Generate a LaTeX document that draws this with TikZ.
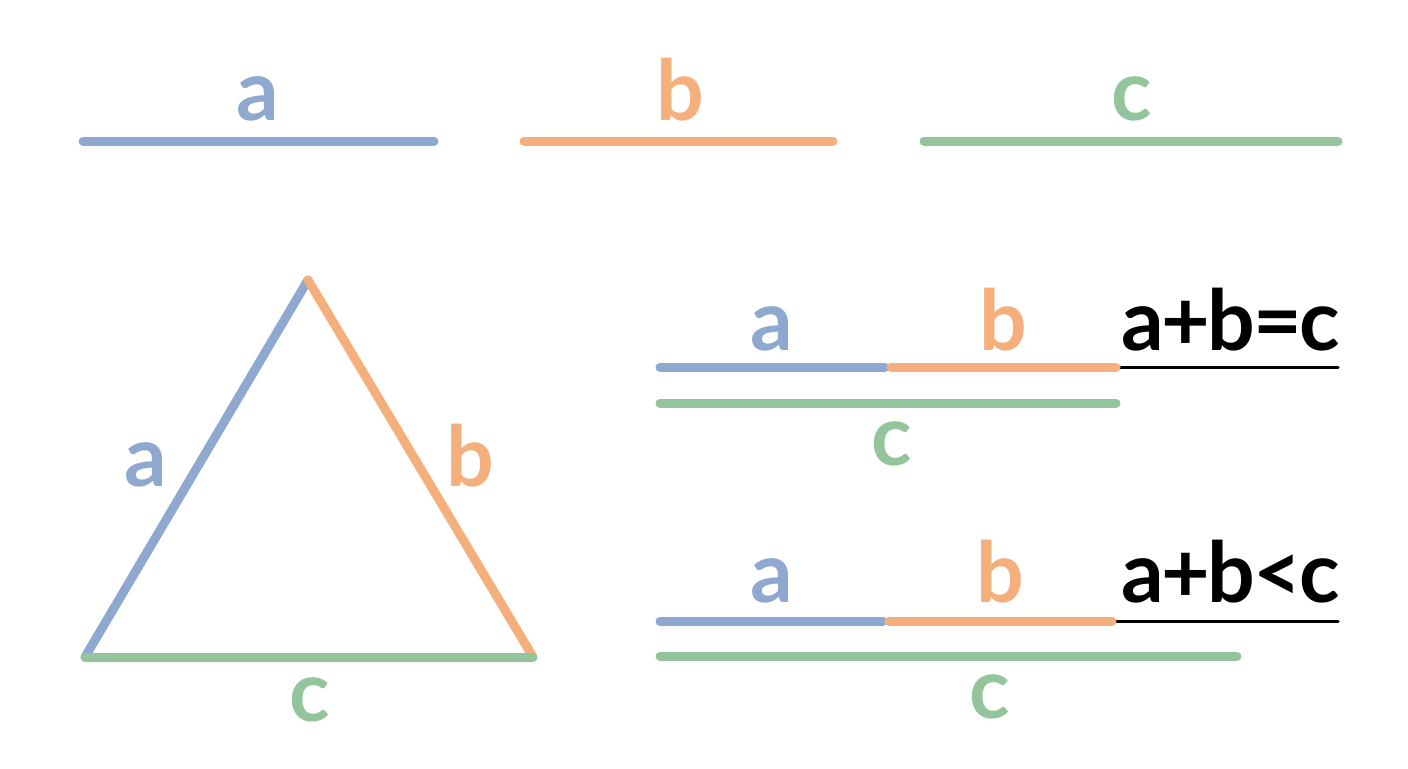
\documentclass[tikz,border=0pt]{standalone}
\usepackage{fontspec}
\setmainfont{Lato}
\definecolor{sidea}{RGB}{143,168,208}
\definecolor{sideb}{RGB}{245,175,125}
\definecolor{sidec}{RGB}{148,196,156}
\tikzstyle{side}=[line width=4.5pt,line cap=round]
\tikzstyle{lbl}=[anchor=base,inner sep=0pt,font=\fontsize{42}{50}\selectfont\bfseries]
\tikzstyle{rel}=[anchor=base east,inner sep=0pt,font=\fontsize{42}{50}\selectfont\bfseries\addfontfeature{LetterSpace=-3}]
\tikzstyle{base}=[line width=1.5pt,line cap=round]

\begin{document}
\begin{tikzpicture}[x=0.5pt,y=-0.5pt]
    \useasboundingbox (0,0) rectangle (1408,768);
    % the three sides
    \coordinate (a1) at (83,141);  \coordinate (a2) at (434,141);
    \coordinate (b1) at (524,141); \coordinate (b2) at (833,141);
    \coordinate (c1) at (924,141); \coordinate (c2) at (1338,141);
    \draw[side,sidea] (a1) -- (a2);
    \draw[side,sideb] (b1) -- (b2);
    \draw[side,sidec] (c1) -- (c2);
    \node[lbl,sidea] (la) at (258,120) {a};
    \node[lbl,sideb] (lb) at (680,120) {b};
    \node[lbl,sidec] (lc) at (1132,120) {c};

    % triangle
    \coordinate (top) at (308,280);
    \coordinate (left) at (85,657);
    \coordinate (right) at (533,657);
    \draw[side,sidea] (left) -- (top);
    \draw[side,sideb] (top) -- (right);
    \draw[side,sidec] (left) -- (right);
    \node[lbl,sidea] (ta) at (146,486) {a};
    \node[lbl,sideb] (tb) at (470,486) {b};
    \node[lbl,sidec] (tc) at (310,721) {c};

    % a+b=c
    \coordinate (e0) at (658,367); \coordinate (e1) at (1338,367);
    \coordinate (ea1) at (660,367); \coordinate (ea2) at (885,367);
    \coordinate (eb1) at (891,367); \coordinate (eb2) at (1116,367);
    \coordinate (ec1) at (660,403); \coordinate (ec2) at (1116,403);
    \draw[base] (e0) -- (e1);
    \draw[side,sidea] (ea1) -- (ea2);
    \draw[side,sideb] (eb1) -- (eb2);
    \draw[side,sidec] (ec1) -- (ec2);
    \node[lbl,sidea] (eqa) at (772,350) {a};
    \node[lbl,sideb] (eqb) at (1003,350) {b};
    \node[lbl,sidec] (eqc) at (892,465) {c};
    \node[rel] (eq) at (1340,350) {a+b=c};

    % a+b<c
    \coordinate (l0) at (658,621); \coordinate (l1) at (1338,621);
    \coordinate (la1) at (660,621); \coordinate (la2) at (883,621);
    \coordinate (lb1) at (889,621); \coordinate (lb2) at (1112,621);
    \coordinate (lc1) at (660,656); \coordinate (lc2) at (1237,656);
    \draw[base] (l0) -- (l1);
    \draw[side,sidea] (la1) -- (la2);
    \draw[side,sideb] (lb1) -- (lb2);
    \draw[side,sidec] (lc1) -- (lc2);
    \node[lbl,sidea] (lta) at (772,602) {a};
    \node[lbl,sideb] (ltb) at (1000,602) {b};
    \node[lbl,sidec] (ltc) at (990,718) {c};
    \node[rel] (lt) at (1340,602) {a+b<c};
\end{tikzpicture}
\end{document}
